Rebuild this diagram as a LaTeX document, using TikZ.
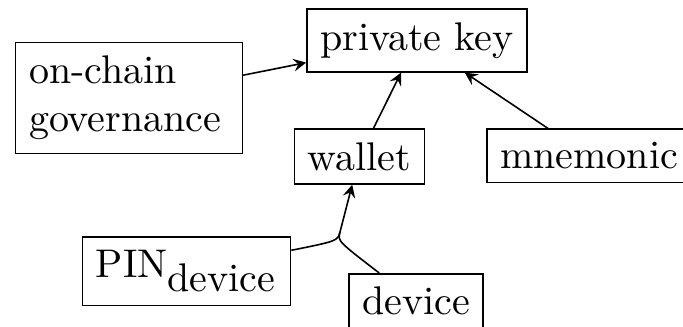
\documentclass[tikz,border=0pt]{standalone}
\usepackage{amsmath}
\begin{document}
\begin{tikzpicture}[
     % define styles
     box/.style={
         draw,
         rectangle
     },
     wide/.style={
         box,
         text width=5em,
         align=left
     },
     x=0.25pt, y=-0.25pt,
     >=stealth
]
\useasboundingbox (0,0) rectangle (683,327);
% nodes
\node[box] (key) at (417,40.5) {private key};
\node[wide] (gov) at (129,98) {on-chain\\governance};
\node[box] (wallet) at (359.5,156.5) {wallet};
\node[box, anchor=west] (mnem) at (486,156) {mnemonic};
\node[box] (pin) at (186.5,271.5) {PIN$_{\hbox{device}}$};
\node[box, anchor=north west] (dev) at (348,273) {device};
% merge point below wallet
\coordinate (join) at (340,232);
\coordinate (bend) at (337.5,241);

% into private key
\draw[->] (gov) -- (key);
\draw[->] (wallet) -- (key);
\draw[->] (mnem) -- (key);
% into wallet
\draw (pin) .. controls (bend) .. (join);
\draw (dev) .. controls (bend) .. (join);
\draw[->] (join) -- (wallet);

\end{tikzpicture}
\end{document}
